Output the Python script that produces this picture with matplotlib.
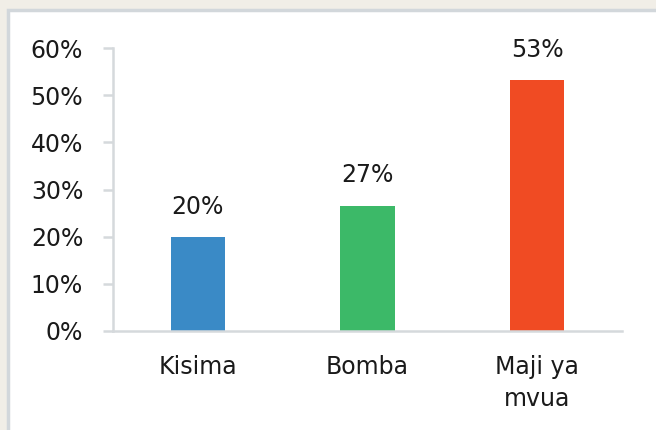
import matplotlib
matplotlib.use("Agg")
import matplotlib.pyplot as plt
from matplotlib.patches import Rectangle

# Chart data
categories = ["Kisima", "Bomba", "Maji ya\nmvua"]
values = [0.20, 0.266, 0.532]
value_labels = ["20%", "27%", "53%"]
bar_colors = ["#3a8ac6", "#3cb968", "#f04b23"]
y_ticks = [0, 0.1, 0.2, 0.3, 0.4, 0.5, 0.6]
y_tick_labels = ["0%", "10%", "20%", "30%", "40%", "50%", "60%"]

plt.rcParams["font.family"] = ["DejaVu Sans"]
FS = 17

fig = plt.figure(figsize=(6.56, 4.30), dpi=100)
fig.patch.set_facecolor("#f1eee7")

# white panel with grey border, behind the axes
panel = Rectangle((7.5 / 656, -0.1), 1.1, (430 - 10.5) / 430 + 0.1,
                  transform=fig.transFigure, facecolor="white",
                  edgecolor="#d2d7db", linewidth=2.5, zorder=-10)
fig.patches.append(panel)

ax = fig.add_axes([113 / 656, 99 / 430, (622 - 113) / 656, (331 - 48) / 430])
ax.set_facecolor("none")
ax.set_zorder(5)

x = range(len(categories))
bars = ax.bar(x, values, width=0.32, color=bar_colors, zorder=2)

for rect, lab in zip(bars, value_labels):
    ax.annotate(lab, (rect.get_x() + rect.get_width() / 2, rect.get_height()),
                xytext=(0, 13), textcoords="offset points",
                ha="center", va="bottom", fontsize=FS, color="#1a1a1a")

ax.set_xlim(-0.5, 2.5)
ax.set_ylim(0, 0.6)
ax.set_yticks(y_ticks)
ax.set_yticklabels(y_tick_labels)
ax.set_xticks(list(x))
ax.set_xticklabels(categories, linespacing=1.45)

for side in ["top", "right"]:
    ax.spines[side].set_visible(False)
for side in ["left", "bottom"]:
    ax.spines[side].set_color("#d5d9dc")
    ax.spines[side].set_linewidth(1.8)

ax.tick_params(axis="y", length=7.5, width=1.8, color="#d5d9dc",
               labelsize=FS, labelcolor="#1a1a1a", pad=14)
ax.tick_params(axis="x", length=0, labelsize=FS, labelcolor="#1a1a1a", pad=17)

fig.savefig("out.png", dpi=100, facecolor=fig.get_facecolor())
